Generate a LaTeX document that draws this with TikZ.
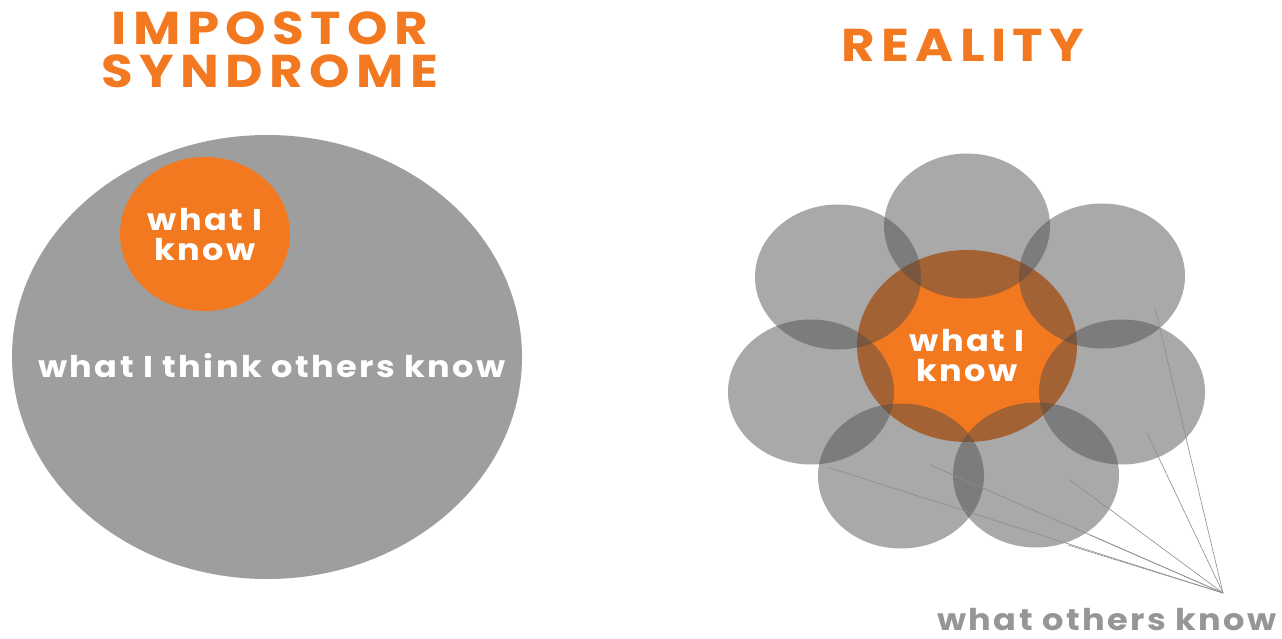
\documentclass[tikz,border=0pt]{standalone}
\usepackage{fontspec}
\newfontfamily\titlefont{Poppins}[LetterSpace=14,FakeStretch=1.12]
\newfontfamily\bodyfont{Poppins}[LetterSpace=8,FakeStretch=1.12]
\definecolor{ora}{RGB}{243,121,33}
\definecolor{bigg}{RGB}{158,158,158}
\definecolor{petal}{RGB}{74,74,74}
\definecolor{lab}{RGB}{150,150,150}
\definecolor{leader}{RGB}{140,140,140}
\tikzset{
  titletext/.style={text=ora, anchor=base, inner sep=0pt, font=\titlefont\bfseries\fontsize{46}{46}\selectfont},
  bodytext/.style={text=white, anchor=base, inner sep=0pt, font=\bodyfont\bfseries\fontsize{30}{30}\selectfont},
  graytext/.style={text=lab, anchor=base, inner sep=0pt, font=\bodyfont\bfseries\fontsize{30}{30}\selectfont},
  petalfill/.style={fill=petal, fill opacity=0.47, draw=none},
  leaderline/.style={draw=leader, line width=0.6pt},
}
\begin{document}
\begin{tikzpicture}[x=1pt,y=-1pt]
\useasboundingbox (0,0) rectangle (1282,639);
\fill[white] (0,0) rectangle (1282,639);

% titles
\node[titletext] (t1) at (270,45) {IMPOSTOR};
\node[titletext] (t2) at (270,88) {SYNDROME};
\node[titletext] (t3) at (963,62) {REALITY};

% left diagram
\fill[bigg] (267,357) ellipse [x radius=255pt, y radius=222pt];
\fill[ora] (205,234) ellipse [x radius=85pt, y radius=77pt];
\node[bodytext] (k1a) at (205,230) {what I};
\node[bodytext] (k1b) at (205,260) {know};
\node[bodytext] (others1) at (272,377) {what I think others know};

% right diagram
\fill[ora] (967,346) ellipse [x radius=110pt, y radius=96pt];
\foreach \px/\py in {967/226, 838/277, 1102/276, 811/392, 1122/392, 901/476, 1036/475}{
  \fill[petalfill] (\px,\py) ellipse [x radius=83pt, y radius=72.5pt];
}
\node[bodytext] (k2a) at (967,351) {what I};
\node[bodytext] (k2b) at (967,381) {know};

% leader lines
\coordinate (apex) at (1223,593);
\coordinate (p1) at (1155,308);
\coordinate (p2) at (1147,433);
\coordinate (p3) at (1070,480);
\coordinate (p4) at (930,465);
\coordinate (p5) at (827,467);
\coordinate (p6) at (1090,535);
\coordinate (p7) at (1068,545);
\foreach \p in {p1,p2,p3,p4,p5,p6,p7}{
  \draw[leaderline] (apex) -- (\p);
}
\node[graytext] (others2) at (1107,630) {what others know};
\end{tikzpicture}
\end{document}
